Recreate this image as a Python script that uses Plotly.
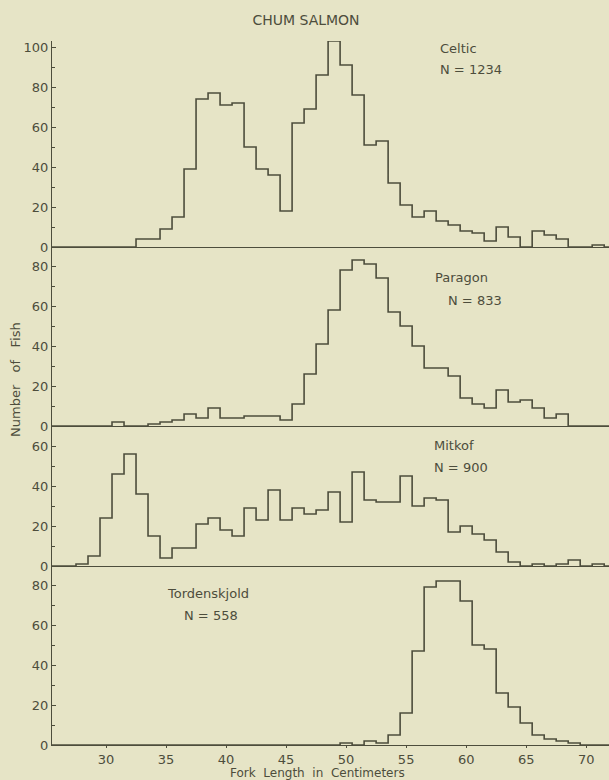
import plotly.graph_objects as go
from plotly.subplots import make_subplots

# Fork length bin centres (cm)
lengths = list(range(25, 73))

# Counts per 1-cm bin (keyed by bin centre)
celtic = {33: 4, 34: 4, 35: 9, 36: 15, 37: 39, 38: 74, 39: 77, 40: 71, 41: 72,
          42: 50, 43: 39, 44: 36, 45: 18, 46: 62, 47: 69, 48: 86, 49: 103,
          50: 91, 51: 76, 52: 51, 53: 53, 54: 32, 55: 21, 56: 15, 57: 18,
          58: 13, 59: 11, 60: 8, 61: 7, 62: 3, 63: 10, 64: 5, 65: 0, 66: 8,
          67: 6, 68: 4, 71: 1}
paragon = {31: 2, 34: 1, 35: 2, 36: 3, 37: 6, 38: 4, 39: 9, 40: 4, 41: 4,
           42: 5, 43: 5, 44: 5, 45: 3, 46: 11, 47: 26, 48: 41, 49: 58,
           50: 78, 51: 83, 52: 81, 53: 74, 54: 57, 55: 50, 56: 40, 57: 29,
           58: 29, 59: 25, 60: 14, 61: 11, 62: 9, 63: 18, 64: 12, 65: 13,
           66: 9, 67: 4, 68: 6}
mitkof = {28: 1, 29: 5, 30: 24, 31: 46, 32: 56, 33: 36, 34: 15, 35: 4,
          36: 9, 37: 9, 38: 21, 39: 24, 40: 18, 41: 15, 42: 29, 43: 23,
          44: 38, 45: 23, 46: 29, 47: 26, 48: 28, 49: 37, 50: 22, 51: 47,
          52: 33, 53: 32, 54: 32, 55: 45, 56: 30, 57: 34, 58: 33, 59: 17,
          60: 20, 61: 16, 62: 13, 63: 7, 64: 2, 66: 1, 68: 1, 69: 3, 71: 1}
tordenskjold = {50: 1, 52: 2, 53: 1, 54: 5, 55: 16, 56: 47, 57: 79, 58: 82,
                59: 82, 60: 72, 61: 50, 62: 48, 63: 26, 64: 19, 65: 11,
                66: 5, 67: 3, 68: 2, 69: 1}

panels = [
    ("Celtic", "N = 1234", celtic, 103, [0, 20, 40, 60, 80, 100]),
    ("Paragon", "N = 833", paragon, 89.5, [0, 20, 40, 60, 80]),
    ("Mitkof", "N = 900", mitkof, 70, [0, 20, 40, 60]),
    ("Tordenskjold", "N = 558", tordenskjold, 89.5, [0, 20, 40, 60, 80]),
]
x_ticks = [30, 35, 40, 45, 50, 55, 60, 65, 70]

BG = "#e6e4c6"
INK = "#4d4d3c"
FONT = "DejaVu Sans"

W, H = 609, 780
L, R, T, B = 52, 0, 41, 35
PW, PH = W - L - R, H - T - B


def px_to_paper(px, py):
    return (px - L) / PW, (H - B - py) / PH


heights = [p[3] for p in panels]
fig = make_subplots(rows=4, cols=1, shared_xaxes=True, vertical_spacing=0,
                    row_heights=[h / sum(heights) for h in heights])

for i, (name, ntext, data, ymax, yt) in enumerate(panels, start=1):
    counts = [data.get(v, 0) for v in lengths]
    xs = [v - 0.5 for v in lengths] + [lengths[-1] + 0.5]
    ys = counts + [counts[-1]]
    fig.add_trace(go.Scatter(x=xs, y=ys, mode="lines", line_shape="hv",
                             line=dict(color=INK, width=1.6),
                             hoverinfo="skip", showlegend=False), row=i, col=1)
    fig.update_yaxes(range=[0, ymax], tickvals=yt, ticks="inside", ticklen=4,
                     tickcolor=INK, showline=True, linecolor=INK, linewidth=1.3,
                     showgrid=False, zeroline=False, automargin=False,
                     minor=dict(dtick=10, ticks="inside", ticklen=3, tickcolor=INK),
                     tickfont=dict(family=FONT, size=13, color=INK),
                     row=i, col=1)
    fig.update_xaxes(range=[25.5, 71.9], showline=True, linecolor=INK,
                     linewidth=1.3, showgrid=False, zeroline=False,
                     automargin=False, tickvals=x_ticks, row=i, col=1,
                     ticks="outside" if i == 4 else "", ticklen=2, tickcolor=INK,
                     showticklabels=(i == 4),
                     tickfont=dict(family=FONT, size=13, color=INK))

ann_font = dict(family=FONT, size=13, color=INK)
labels = [
    ("Celtic", 438, 49), ("N = 1234", 438, 69),
    ("Paragon", 433, 277), ("N = 833", 446, 300),
    ("Mitkof", 432, 445), ("N = 900", 432, 467),
    ("Tordenskjold", 165, 593), ("N = 558", 182, 615),
]
for text, px, py in labels:
    ax, ay = px_to_paper(px, py)
    fig.add_annotation(text=text, x=ax, y=ay, xref="paper", yref="paper",
                       xanchor="left", yanchor="middle", showarrow=False,
                       font=ann_font)

ax, ay = px_to_paper(15, 380)
fig.add_annotation(text="Number   of   Fish", textangle=-90, x=ax, y=ay,
                   xref="paper", yref="paper", showarrow=False,
                   xanchor="center", yanchor="middle",
                   font=dict(family=FONT, size=13, color=INK))
ax, ay = px_to_paper(317, 773)
fig.add_annotation(text="Fork  Length  in  Centimeters", x=ax, y=ay,
                   xref="paper", yref="paper", showarrow=False,
                   xanchor="center", yanchor="middle",
                   font=dict(family=FONT, size=12, color=INK))

fig.update_layout(
    width=W, height=H, margin=dict(l=L, r=R, t=T, b=B, autoexpand=False),
    paper_bgcolor=BG, plot_bgcolor=BG,
    font=dict(family=FONT, color=INK),
    title=dict(text="CHUM SALMON", x=306 / W, xanchor="center", y=1 - 20 / H,
               yanchor="middle", font=dict(family=FONT, size=14, color=INK)),
    showlegend=False,
)

fig.write_html(
    "out.html",
    config={"displayModeBar": False},
    post_script=("document.body.style.margin='0';"
                 "document.body.style.overflow='hidden';"
                 "document.body.style.background='" + BG + "';"),
)
